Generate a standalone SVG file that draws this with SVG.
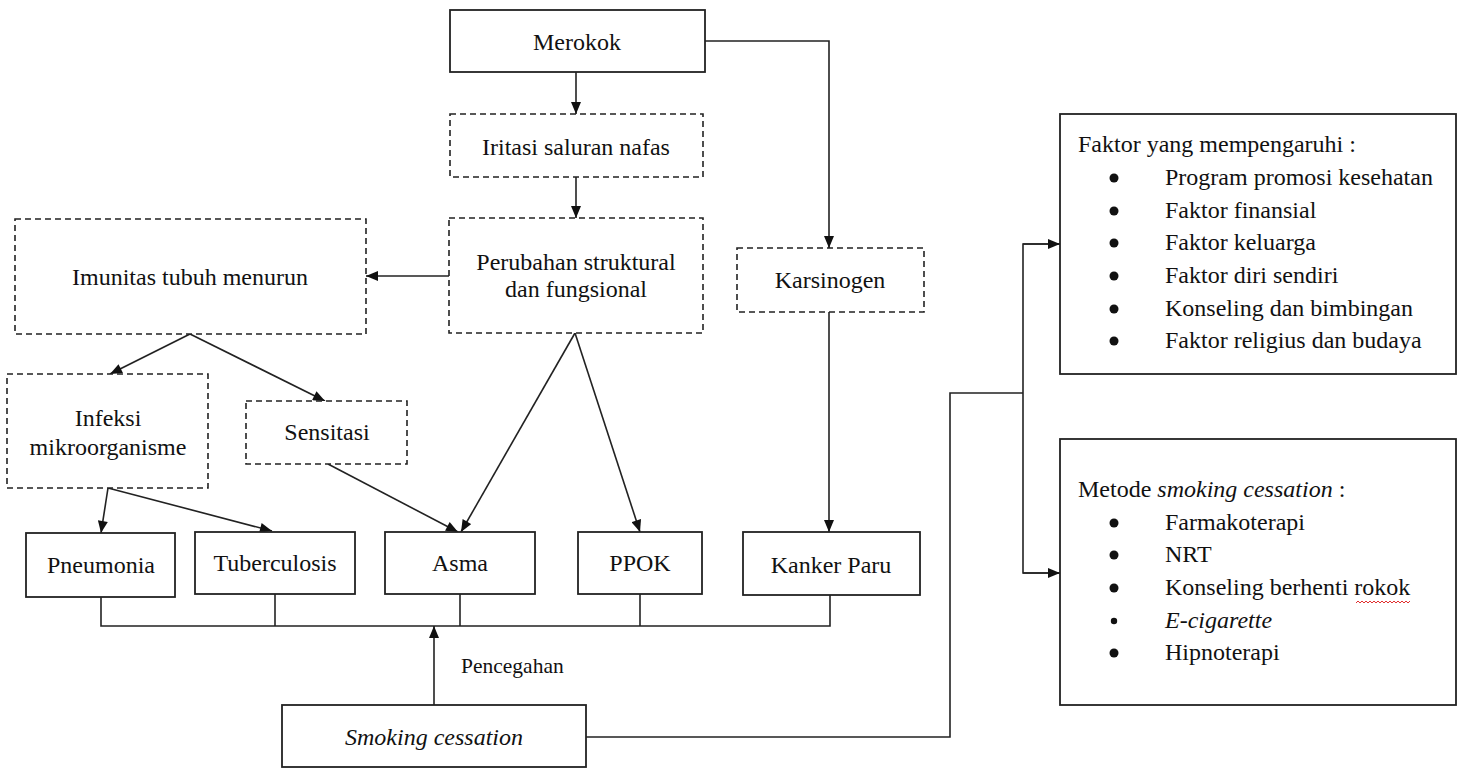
<svg xmlns="http://www.w3.org/2000/svg" width="1466" height="769" viewBox="0 0 1466 769">
<defs>
<marker id="ah" viewBox="0 0 12 10" refX="12" refY="5" markerWidth="13" markerHeight="10" markerUnits="userSpaceOnUse" orient="auto">
<path d="M0,0 L12,5 L0,10 z" fill="#111"/>
</marker>
<style>
.box{fill:#fff;stroke:#222;stroke-width:1.8}
.dbox{fill:#fff;stroke:#222;stroke-width:1.6;stroke-dasharray:6 4}
.t{font-family:"Liberation Serif","Times New Roman",serif;font-size:24px;fill:#111}
.c{text-anchor:middle}
.i{font-style:italic}
.ln{fill:none;stroke:#222;stroke-width:1.6}
.bul{fill:#111}
</style>
</defs>
<rect width="1466" height="769" fill="#fff"/>

<g id="connectors">
<line class="ln" x1="576" y1="72" x2="576" y2="114" marker-end="url(#ah)"/>
<line class="ln" x1="576" y1="177" x2="576" y2="218" marker-end="url(#ah)"/>
<polyline class="ln" points="705,41 829,41 829,248" marker-end="url(#ah)"/>
<line class="ln" x1="449" y1="276" x2="366" y2="276" marker-end="url(#ah)"/>
<line class="ln" x1="190" y1="334" x2="110" y2="374" marker-end="url(#ah)"/>
<line class="ln" x1="190" y1="334" x2="325" y2="401" marker-end="url(#ah)"/>
<line class="ln" x1="108" y1="488" x2="101" y2="533" marker-end="url(#ah)"/>
<line class="ln" x1="108" y1="488" x2="272" y2="531" marker-end="url(#ah)"/>
<line class="ln" x1="328" y1="464" x2="458" y2="532" marker-end="url(#ah)"/>
<line class="ln" x1="575" y1="333" x2="461" y2="532" marker-end="url(#ah)"/>
<line class="ln" x1="575" y1="333" x2="640" y2="532" marker-end="url(#ah)"/>
<line class="ln" x1="829" y1="312" x2="829" y2="532" marker-end="url(#ah)"/>
<polyline class="ln" points="101,597 101,626 830,626 830,595"/>
<line class="ln" x1="275" y1="594" x2="275" y2="626"/>
<line class="ln" x1="460" y1="594" x2="460" y2="626"/>
<line class="ln" x1="640" y1="594" x2="640" y2="626"/>
<line class="ln" x1="434" y1="705" x2="434" y2="626" marker-end="url(#ah)"/>
<polyline class="ln" points="586,737 950,737 950,393 1023,393"/>
<polyline class="ln" points="1060,244 1023,244 1023,573 1060,573"/>
<line class="ln" x1="1023" y1="244" x2="1060" y2="244" marker-end="url(#ah)"/>
<line class="ln" x1="1023" y1="573" x2="1060" y2="573" marker-end="url(#ah)"/>
<text class="t" x="461" y="673" style="font-size:21.5px">Pencegahan</text>
</g>

<g id="merokok">
<rect class="box" x="450" y="10" width="255" height="62"/>
<text class="t c" x="577" y="50">Merokok</text>
</g>
<g id="iritasi">
<rect class="dbox" x="450" y="114" width="253" height="63"/>
<text class="t c" x="576" y="155">Iritasi saluran nafas</text>
</g>
<g id="perubahan">
<rect class="dbox" x="449" y="218" width="254" height="115"/>
<text class="t c" x="576" y="270">Perubahan struktural</text>
<text class="t c" x="576" y="297">dan fungsional</text>
</g>
<g id="imunitas">
<rect class="dbox" x="15" y="219" width="351" height="115"/>
<text class="t c" x="190" y="285">Imunitas tubuh menurun</text>
</g>
<g id="karsinogen">
<rect class="dbox" x="737" y="248" width="187" height="64"/>
<text class="t c" x="830" y="288">Karsinogen</text>
</g>
<g id="infeksi">
<rect class="dbox" x="7" y="374" width="201" height="114"/>
<text class="t c" x="108" y="426">Infeksi</text>
<text class="t c" x="108" y="455">mikroorganisme</text>
</g>
<g id="sensitasi">
<rect class="dbox" x="246" y="401" width="161" height="63"/>
<text class="t c" x="327" y="440">Sensitasi</text>
</g>
<g id="pneumonia">
<rect class="box" x="26" y="533" width="149" height="64"/>
<text class="t c" x="101" y="573">Pneumonia</text>
</g>
<g id="tuberculosis">
<rect class="box" x="195" y="532" width="160" height="62"/>
<text class="t c" x="275" y="571">Tuberculosis</text>
</g>
<g id="asma">
<rect class="box" x="385" y="532" width="150" height="62"/>
<text class="t c" x="460" y="571">Asma</text>
</g>
<g id="ppok">
<rect class="box" x="578" y="532" width="124" height="62"/>
<text class="t c" x="640" y="571">PPOK</text>
</g>
<g id="kanker">
<rect class="box" x="743" y="532" width="177" height="63"/>
<text class="t c" x="831" y="573">Kanker Paru</text>
</g>
<g id="smoking">
<rect class="box" x="282" y="705" width="304" height="62"/>
<text class="t c i" x="434" y="745">Smoking cessation</text>
</g>
<g id="faktor">
<rect class="box" x="1060" y="114" width="396" height="260"/>
<text class="t" x="1078" y="152">Faktor yang mempengaruhi :</text>
<circle class="bul" cx="1114" cy="178" r="4.5"/>
<text class="t" x="1165" y="185">Program promosi kesehatan</text>
<circle class="bul" cx="1114" cy="211" r="4.5"/>
<text class="t" x="1165" y="218">Faktor finansial</text>
<circle class="bul" cx="1114" cy="243" r="4.5"/>
<text class="t" x="1165" y="250">Faktor keluarga</text>
<circle class="bul" cx="1114" cy="276" r="4.5"/>
<text class="t" x="1165" y="283">Faktor diri sendiri</text>
<circle class="bul" cx="1114" cy="309" r="4.5"/>
<text class="t" x="1165" y="316">Konseling dan bimbingan</text>
<circle class="bul" cx="1114" cy="341" r="4.5"/>
<text class="t" x="1165" y="348">Faktor religius dan budaya</text>
</g>
<g id="metode">
<rect class="box" x="1060" y="439" width="396" height="266"/>
<text class="t" x="1078" y="497">Metode <tspan class="i">smoking cessation</tspan> :</text>
<circle class="bul" cx="1114" cy="523" r="4.5"/>
<text class="t" x="1165" y="530">Farmakoterapi</text>
<circle class="bul" cx="1114" cy="555" r="4.5"/>
<text class="t" x="1165" y="562">NRT</text>
<circle class="bul" cx="1114" cy="588" r="4.5"/>
<text class="t" x="1165" y="595">Konseling berhenti rokok</text>
<path d="M1356,603 l2,-2 l2,2 l2,-2 l2,2 l2,-2 l2,2 l2,-2 l2,2 l2,-2 l2,2 l2,-2 l2,2 l2,-2 l2,2 l2,-2 l2,2 l2,-2 l2,2 l2,-2 l2,2 l2,-2 l2,2 l2,-2 l2,2 l2,-2 l2,2 l2,-2" fill="none" stroke="#e03030" stroke-width="1"/>
<circle class="bul" cx="1114" cy="621" r="3.2"/>
<text class="t i" x="1165" y="628">E-cigarette</text>
<circle class="bul" cx="1114" cy="653" r="4.5"/>
<text class="t" x="1165" y="660">Hipnoterapi</text>
</g>
</svg>
